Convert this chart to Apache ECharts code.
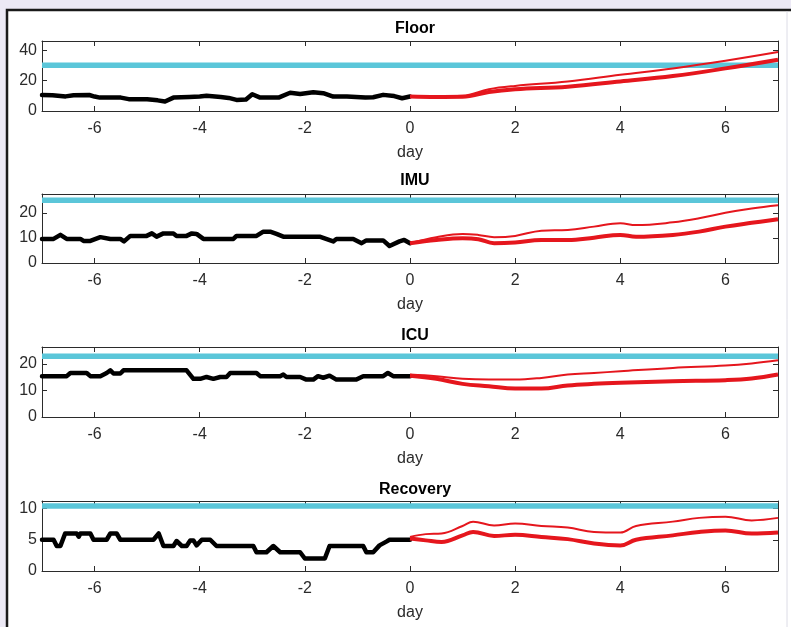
<!DOCTYPE html>
<html>
<head>
<meta charset="utf-8">
<script src="https://cdn.jsdelivr.net/npm/echarts@6/dist/echarts.min.js"></script>
<style>
html,body{margin:0;padding:0;background:#ECE9F5;}
#chart{width:791px;height:627px;}
</style>
</head>
<body>
<div id="chart"></div>
<script>
// ---------- data ----------
const panelTitles = ['Floor', 'IMU', 'ICU', 'Recovery'];
const xTickValues = [-6, -4, -2, 0, 2, 4, 6];
const xLabelName = 'day';

const floorYMax = 46;
const floorYTicks = [0, 20, 40];
const floorCapacity = 30;
const floorHistDays = [-7.0,-6.8,-6.55,-6.4,-6.1,-6.0,-5.9,-5.5,-5.35,-5.0,-4.8,-4.66,-4.5,-4.2,-4.0,-3.87,-3.6,-3.45,-3.3,-3.12,-3.0,-2.85,-2.5,-2.28,-2.09,-1.84,-1.65,-1.46,-1.2,-0.85,-0.7,-0.51,-0.3,-0.15,0];
const floorHistVals = [10.5,10.3,9.6,10.3,10.5,9.5,8.8,8.8,7.8,7.7,7.0,6.2,8.8,9.2,9.5,10.0,9.2,8.6,7.3,7.5,11.0,8.8,8.8,12.0,11.2,12.3,11.7,9.5,9.5,8.8,9.0,10.6,9.8,8.4,9.5];
const floorFcDays = [0,0.5,1,1.5,2,3,4,5,6,7];
const floorFcLow  = [9.5,9.2,9.3,12.5,14.3,16,19.4,23,28,33.7];
const floorFcHigh = [9.5,9.5,10,14.3,16.5,19.4,23.8,28,33,38.7];

const imuYMax = 27.5;
const imuYTicks = [0, 10, 20];
const imuCapacity = 25;
const imuHistDays = [-7,-6.78,-6.65,-6.53,-6.27,-6.21,-6.08,-5.89,-5.70,-5.51,-5.44,-5.32,-5.01,-4.91,-4.82,-4.69,-4.50,-4.44,-4.25,-4.15,-4.06,-3.93,-3.36,-3.30,-2.92,-2.79,-2.66,-2.54,-2.41,-1.72,-1.46,-1.40,-1.08,-0.92,-0.83,-0.51,-0.39,-0.20,-0.11,0];
const imuHistVals = [9.6,9.6,11.2,9.6,9.6,8.8,8.8,10.3,9.6,9.6,8.6,10.8,10.8,11.8,10.5,11.8,11.8,10.8,10.8,11.8,11.6,9.6,9.6,10.8,10.8,12.5,12.5,11.6,10.5,10.5,8.6,9.6,9.6,7.9,9.0,9.0,6.8,8.6,9.2,7.9];
const imuFcDays = [0,0.5,1,1.3,1.6,2,2.5,3,3.5,4,4.3,5,5.5,6,6.5,7];
const imuFcLow  = [7.9,9.2,9.9,9.5,7.9,8.2,9.2,9.2,10.1,11.2,10.5,11.2,12.5,14.5,16,17.4];
const imuFcHigh = [7.9,10.3,11.6,11.2,10.3,10.8,12.9,13.2,14.5,15.8,15.1,16.2,17.8,20,21.7,23];

const icuYMax = 26.4;
const icuYTicks = [0, 10, 20];
const icuCapacity = 22.9;
const icuHistDays = [-7,-6.53,-6.46,-6.15,-6.08,-5.89,-5.77,-5.70,-5.64,-5.51,-5.45,-4.25,-4.12,-3.99,-3.87,-3.74,-3.61,-3.49,-3.42,-2.92,-2.85,-2.47,-2.41,-2.35,-2.09,-1.97,-1.84,-1.75,-1.65,-1.53,-1.40,-1.02,-0.89,-0.51,-0.42,-0.32,-0.20,0];
const icuHistVals = [15.4,15.4,16.6,16.6,15.4,15.4,16.6,17.6,16.4,16.4,17.6,17.6,14.4,14.4,15.1,14.4,15.1,15.1,16.6,16.6,15.4,15.4,16.0,15.1,15.1,14.1,14.1,15.4,14.8,15.6,14.1,14.1,15.4,15.4,16.6,15.4,15.4,15.4];
const icuFcDays = [0,0.5,1,1.5,2,2.5,3,3.5,4,5,6,6.5,7];
const icuFcLow  = [15.6,14.4,12.5,11.6,10.75,10.75,11.9,12.5,12.9,13.5,13.9,14.5,16];
const icuFcHigh = [16,15.4,14.4,14.1,14.1,14.75,16,16.6,17.25,18.5,19.4,20.2,21.4];

const recYMax = 11.2;
const recYTicks = [0, 5, 10];
const recCapacity = 10.4;
const recHistDays = [-7,-6.78,-6.72,-6.65,-6.56,-6.34,-6.30,-6.27,-6.08,-6.02,-5.77,-5.70,-5.58,-5.51,-4.88,-4.78,-4.69,-4.50,-4.44,-4.34,-4.25,-4.18,-4.12,-4.06,-3.96,-3.80,-3.68,-2.98,-2.92,-2.73,-2.60,-2.47,-2.09,-2.06,-2.0,-1.62,-1.53,-0.89,-0.83,-0.70,-0.58,-0.45,-0.39,0];
const recHistVals = [5,5,4,4,6,6,5.5,6,6,5,5,6,6,5,5,6,4,4,4.8,4,4,4.9,4.9,4.1,5,5,4,4,3,3,4,3,3,2.9,2,2,4,4,3,3,4.1,4.7,5,5];
const recFcDays = [0,0.3,0.6,1,1.2,1.6,2,2.5,3,3.5,4,4.3,5,5.5,6,6.5,7];
const recFcLow  = [5.2,4.9,4.65,5.7,6.25,5.6,5.8,5.45,5.1,4.4,4.1,5,5.7,6.25,6.5,6,6.15];
const recFcHigh = [5.45,5.9,6,7.2,7.9,7.3,7.6,7.2,6.95,6.25,6.15,7.2,7.9,8.5,8.7,8.1,8.5];

// ---------- build ----------
const panels = [
  {yMax: floorYMax, yTicks: floorYTicks, cap: floorCapacity, hd: floorHistDays, hv: floorHistVals, fd: floorFcDays, lo: floorFcLow, hi: floorFcHigh},
  {yMax: imuYMax, yTicks: imuYTicks, cap: imuCapacity, hd: imuHistDays, hv: imuHistVals, fd: imuFcDays, lo: imuFcLow, hi: imuFcHigh},
  {yMax: icuYMax, yTicks: icuYTicks, cap: icuCapacity, hd: icuHistDays, hv: icuHistVals, fd: icuFcDays, lo: icuFcLow, hi: icuFcHigh},
  {yMax: recYMax, yTicks: recYTicks, cap: recCapacity, hd: recHistDays, hv: recHistVals, fd: recFcDays, lo: recFcLow, hi: recFcHigh}
];
const gridTops = [41, 194, 347, 501];
const gridHeights = [70, 69, 70, 70];
const titleCenters = [26, 178, 333, 487];

const FONT = '"Liberation Sans", Arial, sans-serif';
const AX = '#2b2b2b';
const zip = (a, b) => a.map((v, i) => [v, b[i]]);

const option = {
  backgroundColor: 'transparent',
  animation: false,
  title: [], grid: [], xAxis: [], yAxis: [], series: [],
  graphic: [
    {type: 'rect', shape: {x: 7, y: 10, width: 800, height: 700}, style: {fill: '#ffffff', stroke: '#1a1a1a', lineWidth: 2.5}, z: -10},
    {type: 'line', shape: {x1: 787, y1: 11.5, x2: 787, y2: 627}, style: {stroke: '#dcdce6', lineWidth: 1}, z: -9}
  ]
};

panels.forEach((p, i) => {
  option.title.push({
    text: panelTitles[i], left: 410, top: titleCenters[i] - 10, textAlign: 'center',
    textStyle: {fontFamily: FONT, fontSize: 16, fontWeight: 'bold', color: '#000'}
  });
  option.grid.push({left: 42, right: 13, top: gridTops[i], height: gridHeights[i], show: false});
  const xb = {
    type: 'value', gridIndex: i, min: -7, max: 7, position: 'bottom',
    axisLine: {show: true, onZero: false, lineStyle: {color: AX, width: 1}},
    axisTick: {show: true, inside: true, length: 5, customValues: xTickValues, lineStyle: {color: AX}},
    axisLabel: {show: true, customValues: xTickValues, margin: 10, fontFamily: FONT, fontSize: 16, color: AX},
    splitLine: {show: false},
    name: xLabelName, nameLocation: 'middle', nameGap: 34,
    nameTextStyle: {fontFamily: FONT, fontSize: 16, color: AX}
  };
  const xt = {
    type: 'value', gridIndex: i, min: -7, max: 7, position: 'top',
    axisLine: {show: true, onZero: false, lineStyle: {color: AX, width: 1}},
    axisTick: {show: true, inside: true, length: 5, customValues: xTickValues, lineStyle: {color: AX}},
    axisLabel: {show: false}, splitLine: {show: false}
  };
  const yl = {
    type: 'value', gridIndex: i, min: 0, max: p.yMax, position: 'left',
    axisLine: {show: true, onZero: false, lineStyle: {color: AX, width: 1}},
    axisTick: {show: true, inside: true, length: 5, customValues: p.yTicks, lineStyle: {color: AX}},
    axisLabel: {show: true, customValues: p.yTicks, margin: 5, fontFamily: FONT, fontSize: 16, color: AX},
    splitLine: {show: false}
  };
  const yr = {
    type: 'value', gridIndex: i, min: 0, max: p.yMax, position: 'right',
    axisLine: {show: true, onZero: false, lineStyle: {color: AX, width: 1}},
    axisTick: {show: true, inside: true, length: 5, customValues: p.yTicks, lineStyle: {color: AX}},
    axisLabel: {show: false}, splitLine: {show: false}
  };
  const xi = option.xAxis.length;
  option.xAxis.push(xb, xt);
  const yi = option.yAxis.length;
  option.yAxis.push(yl, yr);
  option.series.push({
    type: 'line', xAxisIndex: xi, yAxisIndex: yi, showSymbol: false, symbol: 'none',
    data: [[-7, p.cap], [7, p.cap]], lineStyle: {color: '#5BC6D9', width: 5.5}, z: 2
  });
  option.series.push({
    type: 'line', xAxisIndex: xi, yAxisIndex: yi, showSymbol: false, symbol: 'none',
    data: zip(p.hd, p.hv), lineStyle: {color: '#000', width: 4.5, join: 'round', cap: 'round'}, z: 3
  });
  option.series.push({
    type: 'line', xAxisIndex: xi, yAxisIndex: yi, showSymbol: false, symbol: 'none', smooth: 0.4,
    data: zip(p.fd, p.lo), lineStyle: {color: '#E5161D', width: 4}, z: 4
  });
  option.series.push({
    type: 'line', xAxisIndex: xi, yAxisIndex: yi, showSymbol: false, symbol: 'none', smooth: 0.4,
    data: zip(p.fd, p.hi), lineStyle: {color: '#E5161D', width: 2}, z: 4
  });
});

const chart = echarts.init(document.getElementById('chart'), null, {renderer: 'canvas'});
chart.setOption(option);
</script>
</body>
</html>
